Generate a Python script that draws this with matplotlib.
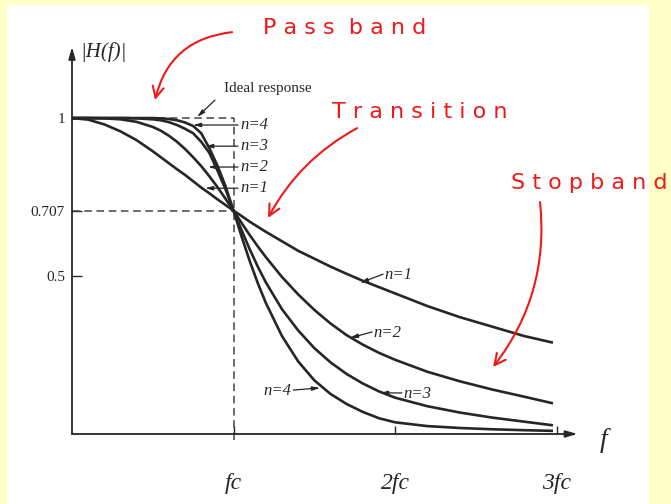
import matplotlib.pyplot as plt
from matplotlib.patches import Rectangle

# 频率(以fc为单位)与各阶幅频响应，从图上读的
f = [0, 0.1, 0.2, 0.3, 0.4, 0.5, 0.55, 0.6, 0.65, 0.7, 0.75, 0.8, 0.85, 0.9,
     0.95, 1.0, 1.05, 1.1, 1.15, 1.2, 1.3, 1.4, 1.5, 1.6, 1.7, 1.8, 1.9, 2.0,
     2.2, 2.4, 2.6, 2.8, 2.97]
h_n1 = [1.0, 0.995, 0.98, 0.958, 0.93, 0.895, 0.876, 0.857, 0.838, 0.82, 0.8,
        0.78, 0.762, 0.743, 0.725, 0.707, 0.69, 0.672, 0.656, 0.64, 0.61, 0.58,
        0.555, 0.53, 0.507, 0.485, 0.465, 0.445, 0.405, 0.37, 0.34, 0.31, 0.29]
h_n2 = [1.0, 1.0, 0.999, 0.996, 0.988, 0.972, 0.96, 0.944, 0.925, 0.902, 0.876,
        0.848, 0.816, 0.782, 0.745, 0.707, 0.668, 0.63, 0.594, 0.56, 0.497,
        0.442, 0.393, 0.35, 0.313, 0.283, 0.257, 0.235, 0.197, 0.167, 0.141,
        0.118, 0.098]
h_n3 = [1.0, 1.0, 1.0, 1.0, 0.999, 0.996, 0.993, 0.987, 0.978, 0.966, 0.952,
        0.925, 0.89, 0.835, 0.775, 0.707, 0.645, 0.585, 0.53, 0.48, 0.395,
        0.328, 0.272, 0.227, 0.19, 0.16, 0.135, 0.115, 0.088, 0.068, 0.052,
        0.039, 0.028]
h_n4 = [1.0, 1.0, 1.0, 1.0, 1.0, 1.0, 0.999, 0.997, 0.993, 0.986, 0.975,
        0.952, 0.905, 0.85, 0.785, 0.707, 0.625, 0.548, 0.478, 0.415, 0.31,
        0.23, 0.17, 0.127, 0.095, 0.07, 0.05, 0.037, 0.025, 0.019, 0.015,
        0.012, 0.01]
curves = [h_n1, h_n2, h_n3, h_n4]

ytick_vals = [0.5, 0.707, 1]
ytick_labels = ["0.5", "0.707", "1"]
xtick_vals = [1, 2, 3]
xtick_labels = ["fc", "2fc", "3fc"]

serif = "Liberation Serif"
ink = "#262626"
red = "#f01818"

fig = plt.figure(figsize=(6.71, 5.04), dpi=100)
fig.patch.set_facecolor("#ffffc8")
# 白色纸面
fig.add_artist(Rectangle((0.0104, 0), 0.9568, 0.99, transform=fig.transFigure,
                         facecolor="white", edgecolor="none", zorder=0))

ax = fig.add_axes([0.1073, 0.1389, 0.7534, 0.7679])
ax.set_facecolor("none")
ax.set_xlim(0, 3.13)
ax.set_ylim(0, 1.225)
for s in ax.spines.values():
    s.set_visible(False)

# 坐标轴箭头
ax.annotate("", xy=(3.13, 0), xytext=(0, 0), annotation_clip=False,
            arrowprops=dict(arrowstyle="-|>,head_length=0.7,head_width=0.2",
                            color=ink, lw=1.3, shrinkA=0, shrinkB=0))
ax.annotate("", xy=(0, 1.225), xytext=(0, 0), annotation_clip=False,
            arrowprops=dict(arrowstyle="-|>,head_length=0.7,head_width=0.2",
                            color=ink, lw=1.3, shrinkA=0, shrinkB=0))

# 理想响应 + 虚线
dash = (0, (5, 3))
ax.plot([0, 1], [1, 1], ls=dash, color="#444", lw=1.1)
ax.plot([1, 1], [-0.02, 1], ls=dash, color="#444", lw=1.1, clip_on=False)
ax.plot([0, 1], [0.707, 0.707], ls=dash, color="#444", lw=1.1)

for h in curves:
    ax.plot(f, h, color=ink, lw=1.9, solid_joinstyle="round")

ax.set_yticks(ytick_vals)
ax.set_yticklabels(ytick_labels, fontfamily=serif)
ax.tick_params(axis="y", direction="in", length=7, width=1, pad=5,
               labelsize=11, colors=ink)
ax.set_xticks(xtick_vals)
ax.set_xticklabels(xtick_labels, fontfamily=serif, fontstyle="italic")
ax.tick_params(axis="x", direction="in", length=6, width=1, pad=28,
               labelsize=17, colors=ink)

ax.text(0.05, 1.21, "|H(f)|", fontsize=15, fontfamily=serif, fontstyle="italic",
        color=ink, va="center", clip_on=False)
ax.text(3.27, -0.02, "f", fontsize=20, fontfamily=serif, fontstyle="italic",
        color=ink, va="center", clip_on=False)

# 标注
small = dict(arrowstyle="-|>,head_length=0.45,head_width=0.12", color=ink,
             lw=0.9, shrinkA=0, shrinkB=0)
ax.text(0.94, 1.095, "Ideal response", fontsize=11, fontfamily=serif,
        color=ink, va="center", clip_on=False)
ax.annotate("", xy=(0.775, 1.003), xytext=(0.885, 1.057), arrowprops=small,
            annotation_clip=False)

n_top = [(0.978, 0.749, "n=4"), (0.911, 0.824, "n=3"),
         (0.845, 0.842, "n=2"), (0.778, 0.824, "n=1")]
for yy, xtip, lab in n_top:
    ax.annotate("", xy=(xtip, yy), xytext=(1.028, yy), arrowprops=small)
    ax.text(1.04, yy, lab, fontsize=12, fontfamily=serif, fontstyle="italic",
            color=ink, va="center")

n_low = [((1.926, 0.506), (1.783, 0.478), "n=1", "left"),
         ((1.858, 0.323), (1.721, 0.304), "n=2", "left"),
         ((2.043, 0.13), (1.907, 0.13), "n=3", "left"),
         ((1.37, 0.139), (1.536, 0.146), "n=4", "right")]
for start, tip, lab, ha in n_low:
    ax.annotate("", xy=tip, xytext=start, arrowprops=small)
    ax.text(start[0] + (0.01 if ha == "left" else -0.01), start[1] - 0.003, lab,
            fontsize=12, fontfamily=serif, fontstyle="italic", color=ink,
            va="center", ha=ha)

# 红色手写注释
red_arrow = dict(arrowstyle="->,head_length=0.8,head_width=0.4", color=red,
                 lw=1.5, shrinkA=0, shrinkB=0)
ax.text(1.69, 1.285, "P a s s  b a n d", fontsize=16, color=red,
        ha="center", va="center", clip_on=False)
ax.annotate("", xy=(0.514, 1.057), xytext=(0.991, 1.272), annotation_clip=False,
            arrowprops=dict(red_arrow, connectionstyle="arc3,rad=0.35"))
ax.text(2.155, 1.02, "T r a n s i t i o n", fontsize=16, color=red,
        ha="center", va="center", clip_on=False)
ax.annotate("", xy=(1.214, 0.684), xytext=(1.765, 0.968), annotation_clip=False,
            arrowprops=dict(red_arrow, connectionstyle="arc3,rad=0.15"))
ax.text(3.2, 0.795, "S t o p b a n d", fontsize=16, color=red,
        ha="center", va="center", clip_on=False)
ax.annotate("", xy=(2.607, 0.212), xytext=(2.898, 0.734), annotation_clip=False,
            arrowprops=dict(red_arrow, connectionstyle="arc3,rad=-0.2"))

plt.savefig("out.png", dpi=100, facecolor=fig.get_facecolor())
